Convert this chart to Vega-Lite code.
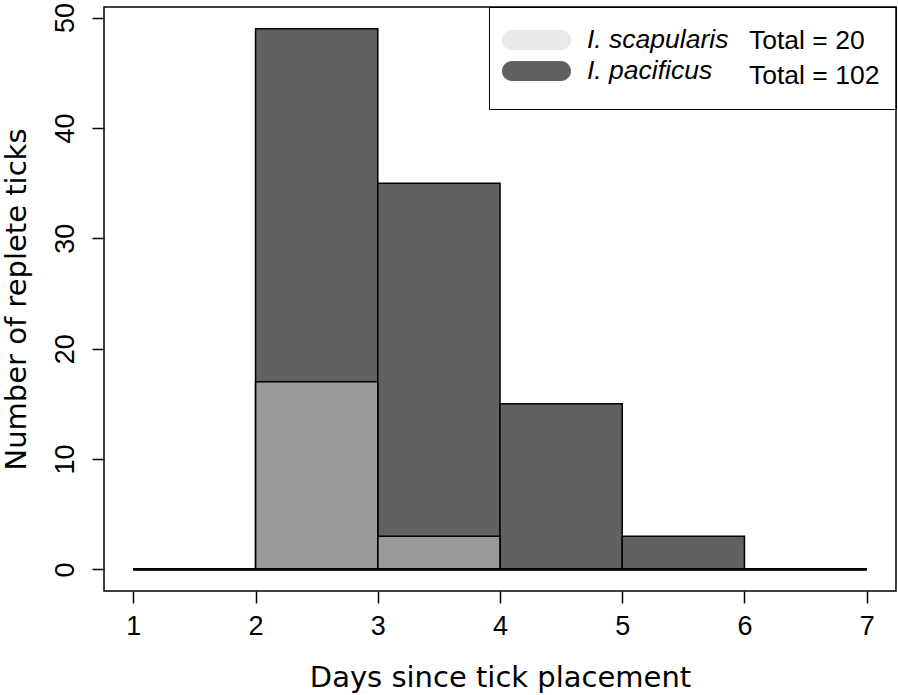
{
  "$schema": "https://vega.github.io/schema/vega-lite/v6.json",
  "width": 792,
  "height": 584,
  "autosize": {"type": "none"},
  "padding": {"left": 104, "top": 7, "right": 2, "bottom": 104},
  "background": "white",
  "config": {
    "view": {"stroke": "black", "strokeWidth": 1.5},
    "axis": {
      "grid": false,
      "domain": false,
      "tickColor": "black",
      "tickWidth": 1.5,
      "tickSize": 12,
      "labelColor": "black",
      "labelFont": "Liberation Sans",
      "labelFontSize": 27,
      "titleFont": "DejaVu Sans",
      "titleFontSize": 29,
      "titleFontWeight": "normal",
      "titleColor": "black"
    }
  },
  "data": {
    "values": [
      {"species": "I. pacificus", "start": 2, "end": 3, "count": 49},
      {"species": "I. pacificus", "start": 3, "end": 4, "count": 35},
      {"species": "I. pacificus", "start": 4, "end": 5, "count": 15},
      {"species": "I. pacificus", "start": 5, "end": 6, "count": 3},
      {"species": "I. scapularis", "start": 2, "end": 3, "count": 17},
      {"species": "I. scapularis", "start": 3, "end": 4, "count": 3}
    ]
  },
  "layer": [
    {
      "mark": {"type": "rect", "stroke": "black", "strokeWidth": 1.5},
      "encoding": {
        "x": {
          "field": "start", "type": "quantitative",
          "scale": {"domain": [0.76, 7.24], "nice": false, "zero": false},
          "axis": {"values": [1, 2, 3, 4, 5, 6, 7], "title": "Days since tick placement", "labelPadding": 10, "titlePadding": 24}
        },
        "x2": {"field": "end"},
        "y": {
          "field": "count", "type": "quantitative",
          "scale": {"domain": [-1.96, 50.96], "nice": false, "zero": false},
          "axis": {"values": [0, 10, 20, 30, 40, 50], "title": "Number of replete ticks", "labelAngle": 270, "labelAlign": "center", "labelBaseline": "alphabetic", "labelPadding": 19, "titlePadding": 20}
        },
        "y2": {"datum": 0},
        "fillOpacity": {"condition": {"test": "datum.species === 'I. scapularis'", "value": 0.42}, "value": 1},
        "color": {
          "field": "species", "type": "nominal",
          "scale": {"domain": ["I. scapularis", "I. pacificus"], "range": ["#e9e9e9", "#616161"]},
          "legend": {
            "title": null,
            "orient": "none",
            "legendX": 415.5,
            "legendY": 16,
            "padding": 0,
            "rowPadding": 0,
            "symbolType": "M-1.44,-0.59L1.44,-0.59A0.59,0.59 0 0 1 1.44,0.59L-1.44,0.59A0.59,0.59 0 0 1 -1.44,-0.59Z",
            "symbolSize": 1156,
            "symbolStrokeWidth": 0,
            "symbolOpacity": 1,
            "labelFont": "Liberation Sans",
            "labelFontSize": 26.5,
            "labelFontStyle": "italic",
            "labelColor": "black",
            "labelOffset": 33.5,
            "labelLimit": 400
          }
        }
      }
    },
    {
      "mark": {"type": "rule", "color": "black", "strokeWidth": 2},
      "encoding": {
        "x": {"datum": 1, "type": "quantitative", "scale": {"domain": [0.76, 7.24], "nice": false, "zero": false},
          "axis": {"values": [1, 2, 3, 4, 5, 6, 7], "title": "Days since tick placement", "labelPadding": 10, "titlePadding": 24}},
        "x2": {"datum": 7},
        "y": {"datum": 0, "type": "quantitative", "scale": {"domain": [-1.96, 50.96], "nice": false, "zero": false},
          "axis": {"values": [0, 10, 20, 30, 40, 50], "title": "Number of replete ticks", "labelAngle": 270, "labelAlign": "center", "labelBaseline": "alphabetic", "labelPadding": 19, "titlePadding": 20}}
      }
    },
    {
      "mark": {"type": "point", "opacity": 0},
      "encoding": {
        "x": {"field": "start", "type": "quantitative", "scale": {"domain": [0.76, 7.24], "nice": false, "zero": false},
          "axis": {"values": [1, 2, 3, 4, 5, 6, 7], "title": "Days since tick placement", "labelPadding": 10, "titlePadding": 24}},
        "y": {"field": "count", "type": "quantitative", "scale": {"domain": [-1.96, 50.96], "nice": false, "zero": false},
          "axis": {"values": [0, 10, 20, 30, 40, 50], "title": "Number of replete ticks", "labelAngle": 270, "labelAlign": "center", "labelBaseline": "alphabetic", "labelPadding": 19, "titlePadding": 20}},
        "shape": {
          "field": "species", "type": "nominal",
          "scale": {"domain": ["I. scapularis", "I. pacificus"]},
          "legend": {
            "title": null,
            "orient": "top-right",
            "offset": 0,
            "padding": 16,
            "rowPadding": 0,
            "strokeColor": "black",
            "symbolSize": 1156,
            "symbolOpacity": 0,
            "labelFont": "Liberation Sans",
            "labelFontSize": 26.5,
            "labelColor": "black",
            "labelOffset": 208,
            "labelLimit": 400,
            "labelExpr": "datum.value === 'I. scapularis' ? 'Total = 20' : 'Total = 102'",
            "encode": {"legend": {"update": {"strokeWidth": {"value": 1.5}}}}
          }
        }
      }
    }
  ]
}
